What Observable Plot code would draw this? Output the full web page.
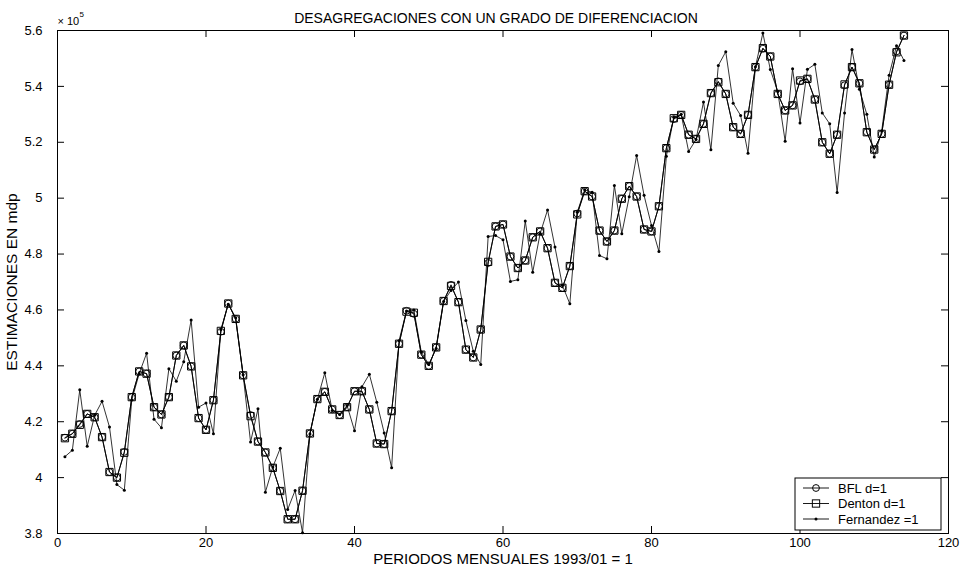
<!DOCTYPE html>
<html><head><meta charset="utf-8">
<script src="https://cdn.jsdelivr.net/npm/d3@7"></script>
<script src="https://cdn.jsdelivr.net/npm/@observablehq/plot@0.6"></script>
<style>body{margin:0;background:#fff}</style>
</head><body><div id="chart"></div>
<script>
const title = "DESAGREGACIONES CON UN GRADO DE DIFERENCIACION";
const xLabel = "PERIODOS MENSUALES 1993/01 = 1";
const yLabel = "ESTIMACIONES EN mdp";
const seriesNames = ["BFL d=1", "Denton d=1", "Fernandez =1"];
const xTicks = [0, 20, 40, 60, 80, 100, 120];
const yTicks = [3.8, 4, 4.2, 4.4, 4.6, 4.8, 5, 5.2, 5.4, 5.6];

const bfl = [4.143,4.157,4.192,4.228,4.216,4.145,4.020,4.000,4.092,4.288,
4.380,4.372,4.252,4.226,4.288,4.437,4.473,4.398,4.213,4.171,
4.277,4.522,4.623,4.568,4.366,4.224,4.129,4.090,4.035,3.952,
3.851,3.851,3.953,4.158,4.281,4.307,4.244,4.224,4.252,4.309,
4.309,4.244,4.122,4.120,4.238,4.479,4.597,4.586,4.440,4.400,
4.466,4.632,4.690,4.628,4.458,4.430,4.530,4.768,4.899,4.906,
4.791,4.750,4.777,4.860,4.881,4.821,4.697,4.679,4.757,4.945,
5.025,5.006,4.884,4.845,4.884,4.998,5.043,5.006,4.888,4.881,
4.971,5.179,5.283,5.298,5.227,5.212,5.266,5.376,5.418,5.373,
5.254,5.230,5.298,5.469,5.535,5.507,5.373,5.314,5.332,5.418,
5.427,5.353,5.200,5.159,5.227,5.404,5.469,5.411,5.236,5.174,
5.230,5.406,5.525,5.582];

const denton = [4.141,4.157,4.189,4.228,4.216,4.145,4.020,4.000,4.089,4.288,
4.380,4.372,4.252,4.226,4.288,4.437,4.473,4.398,4.213,4.171,
4.277,4.525,4.623,4.568,4.366,4.220,4.129,4.090,4.035,3.952,
3.851,3.851,3.953,4.158,4.281,4.307,4.244,4.224,4.252,4.309,
4.309,4.244,4.122,4.120,4.238,4.479,4.594,4.590,4.440,4.400,
4.466,4.632,4.686,4.628,4.458,4.430,4.530,4.772,4.899,4.906,
4.791,4.750,4.777,4.860,4.881,4.821,4.697,4.679,4.757,4.942,
5.025,5.006,4.884,4.845,4.884,4.998,5.043,5.006,4.888,4.881,
4.971,5.179,5.286,5.298,5.227,5.212,5.266,5.376,5.415,5.373,
5.254,5.230,5.298,5.469,5.537,5.507,5.373,5.314,5.332,5.421,
5.427,5.353,5.200,5.159,5.227,5.407,5.469,5.411,5.236,5.174,
5.230,5.406,5.522,5.582];

const fernandez = [4.075,4.098,4.314,4.112,4.223,4.273,4.181,3.975,3.955,4.278,
4.372,4.445,4.209,4.178,4.390,4.345,4.415,4.564,4.252,4.267,
4.157,4.530,4.620,4.572,4.368,4.127,4.246,3.948,4.038,4.105,
3.886,3.954,3.803,4.156,4.280,4.375,4.240,4.226,4.258,4.168,
4.325,4.370,4.270,4.160,4.035,4.490,4.596,4.600,4.449,4.405,
4.462,4.630,4.670,4.700,4.562,4.452,4.405,4.863,4.866,4.851,
4.702,4.708,4.918,4.735,4.873,4.958,4.825,4.688,4.622,4.950,
5.030,5.021,4.795,4.783,5.045,4.873,5.005,5.153,5.010,4.902,
4.809,5.150,5.290,5.300,5.167,5.210,5.344,5.173,5.475,5.524,
5.340,5.296,5.161,5.470,5.591,5.460,5.382,5.204,5.463,5.269,
5.461,5.479,5.305,5.266,5.020,5.305,5.532,5.390,5.300,5.147,
5.240,5.440,5.545,5.493];

const periods = denton.map((_, i) => i + 1);
const rows = vals => vals.map((v, i) => ({x: periods[i], y: v}));

const W = 961, H = 567, mt = 30, mr = 13, mb = 34, ml = 57;
const fw = W - ml - mr, fh = H - mt - mb, tk = 7;
const font = "'Liberation Sans', Arial, Helvetica, sans-serif";

const plot = Plot.plot({
  width: W, height: H,
  marginTop: mt, marginRight: mr, marginBottom: mb, marginLeft: ml,
  style: {fontFamily: font, background: "white", color: "black", overflow: "visible"},
  x: {domain: [0, 120]},
  y: {domain: [3.8, 5.6]},
  marks: [
    Plot.ruleX(xTicks, {x: d => d, insetTop: fh - tk, stroke: "black"}),
    Plot.ruleX(xTicks, {x: d => d, insetBottom: fh - tk, stroke: "black"}),
    Plot.ruleY(yTicks, {y: d => d, insetRight: fw - tk, stroke: "black"}),
    Plot.ruleY(yTicks, {y: d => d, insetLeft: fw - tk, stroke: "black"}),
    Plot.axisX({anchor: "bottom", ticks: xTicks, tickSize: 0, tickPadding: 4, fontSize: 13, label: null}),
    Plot.axisY({anchor: "left", ticks: yTicks, tickSize: 0, tickPadding: 15, fontSize: 13, label: null,
      tickFormat: d => String(+d.toFixed(1))}),
    Plot.line(rows(bfl), {x: "x", y: "y", stroke: "black", strokeWidth: 0.9}),
    Plot.dot(rows(bfl), {x: "x", y: "y", symbol: "circle", r: 3.4, stroke: "black", fill: "none", strokeWidth: 0.9}),
    Plot.line(rows(denton), {x: "x", y: "y", stroke: "black", strokeWidth: 0.9}),
    Plot.dot(rows(denton), {x: "x", y: "y", symbol: "square", r: 4.1, stroke: "black", fill: "none", strokeWidth: 1}),
    Plot.line(rows(fernandez), {x: "x", y: "y", stroke: "black", strokeWidth: 0.8}),
    Plot.dot(rows(fernandez), {x: "x", y: "y", r: 1.5, fill: "black", stroke: "none"}),
    Plot.frame({stroke: "black"}),
    Plot.text([title], {frameAnchor: "top", dy: -17, dx: -7, fontSize: 14}),
    Plot.text([xLabel], {frameAnchor: "bottom", dy: 30, lineAnchor: "bottom", fontSize: 15}),
    Plot.text([yLabel], {frameAnchor: "left", dx: -45, rotate: -90, textAnchor: "middle", fontSize: 15.5}),
    Plot.text(["× 10"], {frameAnchor: "top-left", dy: -13, textAnchor: "start", fontSize: 11}),
    Plot.text(["5"], {frameAnchor: "top-left", dx: 22, dy: -19, textAnchor: "start", fontSize: 8})
  ]
});

// legend
const svg = d3.select(plot);
const lg = svg.append("g").attr("font-family", font).attr("font-size", 13).attr("text-anchor", "start");
lg.append("rect").attr("x", 795).attr("y", 478).attr("width", 146).attr("height", 52)
  .attr("fill", "white").attr("stroke", "black");
const ly = [488, 503.5, 519];
seriesNames.forEach((name, i) => {
  lg.append("line").attr("x1", 803).attr("x2", 829).attr("y1", ly[i]).attr("y2", ly[i])
    .attr("stroke", "black").attr("stroke-width", 0.9);
  if (i === 0) lg.append("circle").attr("cx", 816).attr("cy", ly[i]).attr("r", 3.4)
    .attr("fill", "none").attr("stroke", "black");
  if (i === 1) lg.append("rect").attr("x", 816 - 3.65).attr("y", ly[i] - 3.65).attr("width", 7.3).attr("height", 7.3)
    .attr("fill", "none").attr("stroke", "black");
  if (i === 2) lg.append("circle").attr("cx", 816).attr("cy", ly[i]).attr("r", 1.5).attr("fill", "black");
  lg.append("text").attr("x", 838).attr("y", ly[i]).attr("dy", "0.35em").attr("text-anchor", "start")
    .attr("textLength", null).text(name);
});

document.getElementById("chart").appendChild(plot);
</script>
</body></html>
